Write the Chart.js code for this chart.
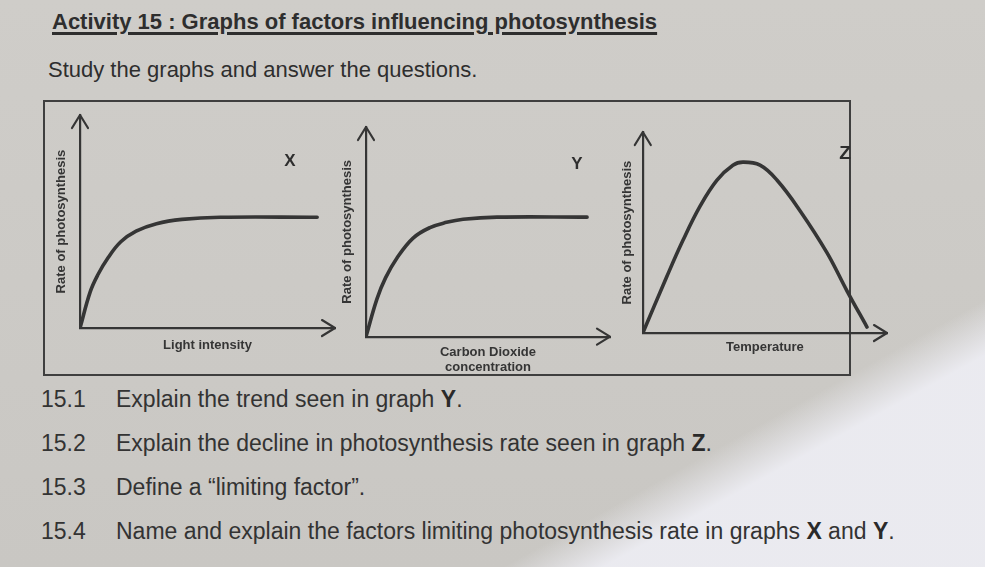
<!DOCTYPE html>
<html>
<head>
<meta charset="utf-8">
<script src="https://cdn.jsdelivr.net/npm/chart.js@4.4.1/dist/chart.umd.min.js"></script>
<style>
  body {
    margin: 0;
    width: 985px;
    height: 567px;
    overflow: hidden;
    position: relative;
    font-family: "Liberation Sans", Arial, sans-serif;
    color: #2e2e2e;
    background: linear-gradient(151deg, rgba(0,0,0,0) 76%, rgba(236,236,242,0.95) 81%), linear-gradient(180deg, #cfcdc9, #c9c7c3);
  }
  .txt { position: absolute; line-height: 1; white-space: nowrap; }
  #title { left: 52px; top: 11px; font-size: 22px; font-weight: bold; text-decoration: underline; text-decoration-thickness: 2.5px; text-underline-offset: 3px; }
  #intro { left: 48px; top: 59px; font-size: 22px; }
  #frame { position: absolute; left: 43px; top: 100px; width: 808px; height: 276px; box-sizing: border-box; border: 2px solid #3f3f3f; }
  .box { position: absolute; }
  .letter { position: absolute; font-weight: bold; line-height: 1; transform: translate(-50%, -50%); }
  .q { font-size: 23px; color: #333; }
  .q b { color: #2a2a2a; }
</style>
</head>
<body>
<div id="title" class="txt">Activity 15 : Graphs of factors influencing photosynthesis</div>
<div id="intro" class="txt">Study the graphs and answer the questions.</div>
<div id="frame"></div>

<div class="box" style="left:40px;top:105px;width:310px;height:260px"><canvas id="graphX"></canvas></div>
<div class="box" style="left:330px;top:105px;width:300px;height:275px"><canvas id="graphY"></canvas></div>
<div class="box" style="left:605px;top:105px;width:300px;height:270px"><canvas id="graphZ"></canvas></div>

<div class="letter" style="left:290px;top:160px;font-size:17px">X</div>
<div class="letter" style="left:577px;top:163px;font-size:17px">Y</div>
<div class="letter" style="left:845px;top:152px;font-size:19px">Z</div>

<div class="txt q" style="left:41px;top:388px">15.1</div>
<div class="txt q" style="left:116px;top:388px">Explain the trend seen in graph <b>Y</b>.</div>
<div class="txt q" style="left:41px;top:432px">15.2</div>
<div class="txt q" style="left:116px;top:432px">Explain the decline in photosynthesis rate seen in graph <b>Z</b>.</div>
<div class="txt q" style="left:41px;top:476px">15.3</div>
<div class="txt q" style="left:116px;top:476px">Define a “limiting factor”.</div>
<div class="txt q" style="left:41px;top:520px">15.4</div>
<div class="txt q" style="left:116px;top:520px">Name and explain the factors limiting photosynthesis rate in graphs <b>X</b> and <b>Y</b>.</div>

<script>
// values (both axes 0..100, arrow tip = 100)
var lightLevel = [0, 4, 7, 11, 16, 22, 30, 40, 55, 93];
var lightRate  = [0, 17, 25, 33, 40.5, 45.5, 49, 51, 52, 52];

var co2Level = [0, 4.5, 8, 12.7, 19.3, 26.2, 33, 39.8, 53.7, 90.6];
var co2Rate  = [0, 18, 28, 37.5, 47, 52, 54.5, 56, 57, 57];

var tempLevel = [0, 9.8, 16.4, 23.4, 30.3, 36.9, 41, 48, 55, 64.3, 75.4, 83.6, 91.8];
var tempRate  = [0, 28, 46, 63, 76, 83.5, 85, 83.5, 76, 61, 40, 21, 3];

var yTitle = 'Rate of photosynthesis';
var ink = '#353535';

// open arrow heads at the end of both axes
var axisArrows = {
  id: 'axisArrows',
  afterDraw: function(chart) {
    var ctx = chart.ctx, a = chart.chartArea;
    ctx.save();
    ctx.strokeStyle = ink;
    ctx.lineWidth = 2.2;
    ctx.lineCap = 'round';
    ctx.lineJoin = 'round';
    ctx.beginPath();
    ctx.moveTo(a.left - 8, a.top + 13);
    ctx.lineTo(a.left, a.top);
    ctx.lineTo(a.left + 8, a.top + 13);
    ctx.moveTo(a.right - 13, a.bottom - 8);
    ctx.lineTo(a.right, a.bottom);
    ctx.lineTo(a.right - 13, a.bottom + 8);
    ctx.stroke();
    ctx.restore();
  }
};

function makeGraph(id, xs, ys, xText, pad, yPad, xPad) {
  var pts = xs.map(function(x, i) { return {x: x, y: ys[i]}; });
  return new Chart(document.getElementById(id), {
    type: 'line',
    data: {
      datasets: [{
        data: pts,
        borderColor: ink,
        borderWidth: 3.6,
        borderCapStyle: 'round',
        pointRadius: 0,
        tension: 0.4,
        fill: false
      }]
    },
    options: {
      responsive: true,
      maintainAspectRatio: false,
      animation: false,
      layout: { padding: pad },
      plugins: { legend: { display: false }, tooltip: { enabled: false } },
      scales: {
        x: {
          type: 'linear', min: 0, max: 100,
          grid: { display: false, drawTicks: false },
          ticks: { display: false },
          border: { display: true, color: ink, width: 2.2 },
          title: {
            display: true, text: xText, color: ink,
            font: { family: 'Liberation Sans', size: 13, weight: 'bold', lineHeight: 1.15 },
            padding: xPad
          }
        },
        y: {
          min: 0, max: 100,
          grid: { display: false, drawTicks: false },
          ticks: { display: false },
          border: { display: true, color: ink, width: 2.2 },
          title: {
            display: true, text: yTitle, color: ink,
            font: { family: 'Liberation Sans', size: 13, weight: 'bold', lineHeight: 1.2 },
            padding: yPad
          }
        }
      }
    },
    plugins: [axisArrows]
  });
}

makeGraph('graphX', lightLevel, lightRate, 'Light intensity',
  {left: 10, right: 15, top: 10, bottom: 10.5}, {top: 4, bottom: 10.4}, {top: 9.5, bottom: 2});
makeGraph('graphY', co2Level, co2Rate, ['Carbon Dioxide', 'concentration'],
  {left: 6, right: 20, top: 22, bottom: 3.5}, {top: 4, bottom: 10.4}, {top: 8, bottom: 2});
makeGraph('graphZ', tempLevel, tempRate, 'Temperature',
  {left: 11, right: 18, top: 27, bottom: 18.5}, {top: 4, bottom: 7.2}, {top: 6.5, bottom: 2});
</script>
</body>
</html>
